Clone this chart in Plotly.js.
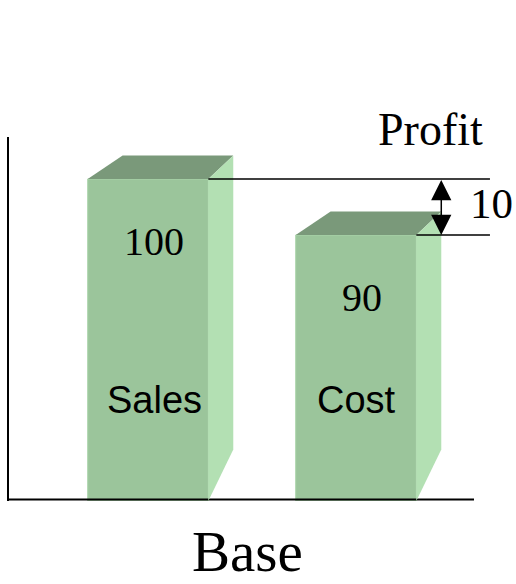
<!DOCTYPE html>
<html><head><meta charset="utf-8">
<script src="https://cdn.plot.ly/plotly-3.0.1.min.js"></script>
<style>html,body{margin:0;padding:0;background:#fff}#chart{width:516px;height:584px}</style>
</head><body><div id="chart"></div>
<script>
// ---- data ----
const categories = ["Sales", "Cost"];
const values = [100, 90];
const positions = [0, 1];
const diffLabel = "Profit";
const axisLabel = "Base";

// ---- style ----
const frontColor = "#9BC59B", topColor = "#7A997A", sideColor = "#B3E0B3", edgeColor = "#ACD5AC";
const serif = "Liberation Serif, Times New Roman, serif";
const sans = "Liberation Sans, Arial, sans-serif";
const barWidth = 0.58;
const depthLeft = 0.168, depthRight = 0.12, depthUp = 4.2, sideRise = 9.2;
const xRange = [-0.66827, 1.65385];
const yRange = [42.5, 107.5];
const axisEndX = 1.5673, axisLineY = 42.77, guideEndX = 1.644;
const catShiftX = [6, 0];

const traces = [];
// bottom axis line (drawn first so bars cover it)
traces.push({type: "scatter", mode: "lines", x: [xRange[0], axisEndX], y: [axisLineY, axisLineY],
  line: {color: "#000", width: 2}, hoverinfo: "skip"});
// front faces
traces.push({type: "bar", x: positions, y: values.map(v => v - yRange[0]), base: yRange[0],
  width: barWidth, marker: {color: frontColor, line: {color: edgeColor, width: 1}}, hoverinfo: "skip"});
// 3D faces
positions.forEach((p, i) => {
  const v = values[i], xl = p - barWidth / 2, xr = p + barWidth / 2;
  traces.push({type: "scatter", mode: "lines", fill: "toself", fillcolor: topColor, line: {width: 0, color: topColor},
    x: [xl, xr, xr + depthRight, xl + depthLeft, xl], y: [v, v, v + depthUp, v + depthUp, v], hoverinfo: "skip"});
  traces.push({type: "scatter", mode: "lines", fill: "toself", fillcolor: sideColor, line: {width: 0, color: sideColor},
    x: [xr, xr + depthRight, xr + depthRight, xr, xr], y: [v, v + depthUp, yRange[0] + sideRise, yRange[0], v], hoverinfo: "skip"});
});
// guide lines
positions.forEach((p, i) => {
  traces.push({type: "scatter", mode: "lines", x: [p + barWidth / 2, guideEndX], y: [values[i], values[i]],
    line: {color: "#000", width: 1.3}, hoverinfo: "skip"});
});

const arrowX = positions[1] + barWidth / 2 + depthRight;
const annotations = [];
positions.forEach((p, i) => {
  annotations.push({x: p, y: values[i], xref: "x", yref: "y", text: String(values[i]), showarrow: false,
    xanchor: "center", yanchor: "middle",
    xshift: 6, yshift: -62, font: {family: serif, size: 40, color: "#000"}});
  annotations.push({x: p, y: 0, xref: "x", yref: "paper", text: categories[i], showarrow: false,
    xanchor: "center", yanchor: "middle",
    xshift: catShiftX[i], yshift: 101, font: {family: sans, size: 38, color: "#000"}});
});
annotations.push({x: arrowX, y: values[1], ax: arrowX, ay: values[0], xref: "x", yref: "y", axref: "x", ayref: "y",
  text: " ", showarrow: true, arrowside: "end+start", arrowhead: 2, startarrowhead: 2, arrowsize: 2.7, startarrowsize: 2.7,
  arrowwidth: 1.5, arrowcolor: "#000", standoff: 0, startstandoff: 0, borderpad: 0, font: {size: 1}});
annotations.push({x: arrowX, y: (values[0] + values[1]) / 2, xref: "x", yref: "y", text: String(values[0] - values[1]),
  showarrow: false, xanchor: "center", yanchor: "middle", xshift: 50, yshift: 4, font: {family: serif, size: 43, color: "#000"}});
annotations.push({x: 0.873, y: 1.0206, xref: "paper", yref: "paper", text: diffLabel, showarrow: false,
  xanchor: "center", yanchor: "middle", font: {family: serif, size: 46, color: "#000"}});
annotations.push({x: 0.494, y: -0.228, xref: "paper", yref: "paper", text: axisLabel, showarrow: false,
  xanchor: "center", yanchor: "bottom", borderpad: 0, font: {family: serif, size: 57, color: "#000"}});

const layout = {
  width: 516, height: 584, margin: {l: 9, r: 24, t: 137, b: 83, pad: 0},
  paper_bgcolor: "#fff", plot_bgcolor: "#fff", showlegend: false, hovermode: false,
  xaxis: {range: xRange, showgrid: false, zeroline: false, showticklabels: false, ticks: "", showline: false, fixedrange: true},
  yaxis: {range: yRange, showgrid: false, zeroline: false, showticklabels: false, ticks: "", showline: true,
    linecolor: "#000", linewidth: 2, fixedrange: true},
  annotations: annotations
};
Plotly.newPlot("chart", traces, layout, {displayModeBar: false, staticPlot: true});
</script></body></html>
